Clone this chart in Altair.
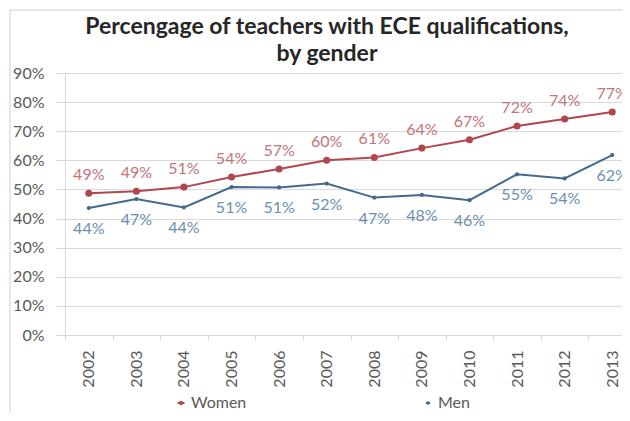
import altair as alt
import pandas as pd

years = ["2002", "2003", "2004", "2005", "2006", "2007", "2008", "2009", "2010", "2011", "2012", "2013"]
women = [0.487, 0.494, 0.508, 0.543, 0.570, 0.600, 0.610, 0.642, 0.671, 0.718, 0.742, 0.766]
men = [0.436, 0.467, 0.438, 0.508, 0.507, 0.520, 0.472, 0.481, 0.463, 0.552, 0.538, 0.618]
series_names = ["Women", "Men"]
y_ticks = [0.0, 0.1, 0.2, 0.3, 0.4, 0.5, 0.6, 0.7, 0.8, 0.9]
title_lines = ["Percengage of teachers with ECE qualifications,", "by gender"]

rows = []
for y, w, m in zip(years, women, men):
    rows.append({"year": y, "series": "Women", "value": w})
    rows.append({"year": y, "series": "Men", "value": m})
df = pd.DataFrame(rows)

W_LINE = "#b0474f"
M_LINE = "#44698f"
W_TEXT = "#c4737a"
M_TEXT = "#6a8db2"
FONT = "Lato"
GRID = "#d9d9d9"
AXIS_TXT = "#595959"

PLOT_W = 557
PLOT_H = 262
X_RANGE = 571

x_enc = alt.X(
    "year:O",
    sort=years,
    scale=alt.Scale(type="band", paddingInner=0, paddingOuter=0, range=[0, X_RANGE]),
    bandPosition=0.5,
    axis=alt.Axis(
        title=None, labelAngle=270, labelAlign="right", labelBaseline="middle",
        labelFontSize=16, labelColor=AXIS_TXT, labelFont=FONT, labelPadding=10,
        tickBand="extent", tickSize=5, tickColor=GRID, domainColor=GRID,
        grid=False,
    ),
)
y_enc = alt.Y(
    "value:Q",
    scale=alt.Scale(domain=[0, 0.9], nice=False, zero=True),
    axis=alt.Axis(
        title=None, values=y_ticks, format=".0%", labelFontSize=16,
        labelColor=AXIS_TXT, labelFont=FONT, labelPadding=12, tickSize=9,
        tickColor=GRID, domainColor=GRID, gridColor=GRID,
    ),
)
color_enc = alt.Color(
    "series:N",
    scale=alt.Scale(domain=series_names, range=[W_LINE, M_LINE]),
    sort=series_names,
    legend=alt.Legend(
        title=None, orient="none", direction="horizontal", legendX=108, legendY=322,
        symbolType="M-1,0H1M-0.35,0A0.35,0.35,0,1,1,0.35,0A0.35,0.35,0,1,1,-0.35,0Z",
        symbolSize=256, symbolStrokeWidth=2, labelFontSize=16, labelColor=AXIS_TXT,
        labelFont=FONT, columnPadding=173, labelOffset=2,
    ),
)

base = alt.Chart(df)

lines = base.mark_line(strokeWidth=2).encode(x=x_enc, y=y_enc, color=color_enc)
points = base.mark_point(filled=True, opacity=1).encode(
    x=x_enc, y=y_enc,
    color=alt.Color("series:N", scale=alt.Scale(domain=series_names, range=[W_LINE, M_LINE]), legend=None),
    size=alt.Size("series:N", scale=alt.Scale(domain=series_names, range=[50, 18]), legend=None),
)
w_text = base.transform_filter(alt.datum.series == "Women").mark_text(
    dy=-18, fontSize=16, font=FONT, color=W_TEXT
).encode(x=x_enc, y=y_enc, text=alt.Text("value:Q", format=".0%"))
m_text = base.transform_filter(alt.datum.series == "Men").mark_text(
    dy=21, fontSize=16, font=FONT, color=M_TEXT
).encode(x=x_enc, y=y_enc, text=alt.Text("value:Q", format=".0%"))

frame_data = alt.Data(values=[{"k": 1}])
top_border = alt.Chart(frame_data).mark_rule(color="#d0d0d0", strokeWidth=1).encode(
    x=alt.value(-55), x2=alt.value(PLOT_W + 10), y=alt.value(-63)
)
left_border = alt.Chart(frame_data).mark_rule(color="#d0d0d0", strokeWidth=1).encode(
    x=alt.value(-55), y=alt.value(-63), y2=alt.value(PLOT_H + 80)
)
title_1 = alt.Chart(frame_data).mark_text(
    font=FONT, fontSize=23, fontWeight="bold", color="#262626", align="center", baseline="middle"
).encode(x=alt.value(262), y=alt.value(-46), text=alt.value(title_lines[0]))
title_2 = alt.Chart(frame_data).mark_text(
    font=FONT, fontSize=23, fontWeight="bold", color="#262626", align="center", baseline="middle"
).encode(x=alt.value(262), y=alt.value(-19), text=alt.value(title_lines[1]))

chart = alt.layer(top_border, left_border, title_1, title_2, lines, points, w_text, m_text).properties(
    width=PLOT_W,
    height=PLOT_H,
    autosize=alt.AutoSizeParams(type="none"),
    padding={"left": 57, "top": 65, "right": 0, "bottom": 78},
).configure_view(stroke=None).configure(background="white")

chart.save("out.html", embed_options={"renderer": "svg", "actions": False})
